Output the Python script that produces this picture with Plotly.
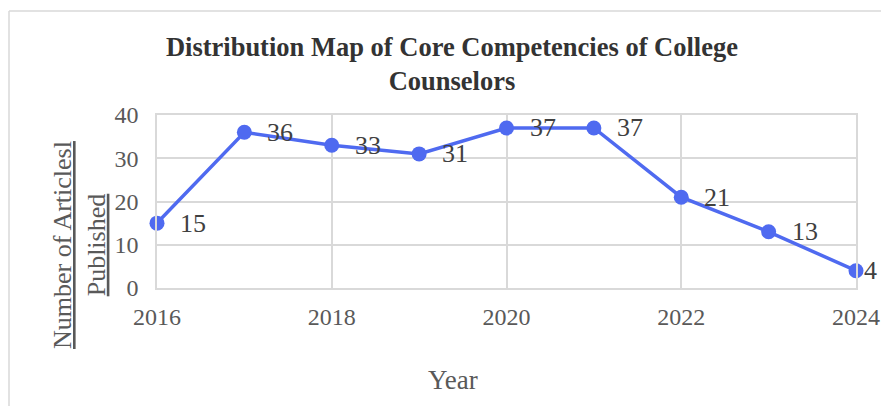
import plotly.graph_objects as go

years = [2016, 2017, 2018, 2019, 2020, 2021, 2022, 2023, 2024]
articles = [15, 36, 33, 31, 37, 37, 21, 13, 4]
x_ticks = [2016, 2018, 2020, 2022, 2024]
y_ticks = [0, 10, 20, 30, 40]

W, H = 881, 406
ML, MR, MT, MB = 157, 25, 115, 118
PW = W - ML - MR
PH = H - MT - MB

def px_x(px):
    return (px - ML) / PW

def px_y(py):
    return (H - MB - py) / PH

FONT = "Liberation Serif, Times New Roman, serif"
LINE = "#4F6AF0"
GRID = "#D9D9D9"

fig = go.Figure()
fig.add_trace(go.Scatter(
    x=years, y=articles, mode="lines+markers",
    line=dict(color=LINE, width=3.5),
    marker=dict(color=LINE, size=15),
    cliponaxis=False,
    hoverinfo="x+y", showlegend=False,
))

annotations = []
for i, (xv, yv) in enumerate(zip(years, articles)):
    last = i == len(years) - 1
    annotations.append(dict(
        x=xv, y=yv, xref="x", yref="y", text=str(yv), showarrow=False,
        xanchor="left", yanchor="middle", xshift=6 if last else 21,
        font=dict(family=FONT, size=26, color="#404040"),
    ))

annotations.append(dict(
    x=px_x(79), y=px_y(245), xref="paper", yref="paper",
    text="<u>Number of Articlesl</u><br><u>Published</u>",
    textangle=-90, showarrow=False, xanchor="center", yanchor="middle",
    font=dict(family=FONT, size=26, color="#595959"),
))
annotations.append(dict(
    x=px_x(453), y=px_y(380), xref="paper", yref="paper",
    text="Year", showarrow=False, xanchor="center", yanchor="middle",
    font=dict(family=FONT, size=27, color="#595959"),
))

shapes = [
    dict(type="line", xref="paper", yref="paper",
         x0=px_x(9), y0=px_y(11), x1=px_x(9), y1=px_y(410),
         line=dict(color=GRID, width=1.5)),
    dict(type="line", xref="paper", yref="paper",
         x0=px_x(9), y0=px_y(11), x1=px_x(885), y1=px_y(11),
         line=dict(color=GRID, width=1.5)),
]

fig.update_layout(
    width=W, height=H,
    margin=dict(l=ML, r=MR, t=MT, b=MB, autoexpand=False),
    paper_bgcolor="white", plot_bgcolor="white",
    title=dict(
        text="<b>Distribution Map of Core Competencies of College<br>Counselors</b>",
        x=0.513, xanchor="center", y=1 - 56 / H, yanchor="middle",
        font=dict(family=FONT, size=26.5, color="#333333"),
    ),
    xaxis=dict(
        range=[2016, 2024], tickmode="array", tickvals=x_ticks,
        ticktext=[str(t) for t in x_ticks],
        showgrid=True, gridcolor=GRID, gridwidth=1.5,
        showline=True, linecolor=GRID, linewidth=1.5, mirror=True,
        ticks="outside", ticklen=6, tickcolor="rgba(0,0,0,0)",
        tickfont=dict(family=FONT, size=24, color="#595959"),
        zeroline=False,
    ),
    yaxis=dict(
        range=[0, 40], tickmode="array", tickvals=y_ticks,
        showgrid=True, gridcolor=GRID, gridwidth=1.5,
        showline=True, linecolor=GRID, linewidth=1.5, mirror=True,
        ticks="outside", ticklen=12, tickcolor="rgba(0,0,0,0)",
        tickfont=dict(family=FONT, size=24, color="#595959"),
        zeroline=False,
    ),
    annotations=annotations,
    shapes=shapes,
)

fig.write_html("out.html")
